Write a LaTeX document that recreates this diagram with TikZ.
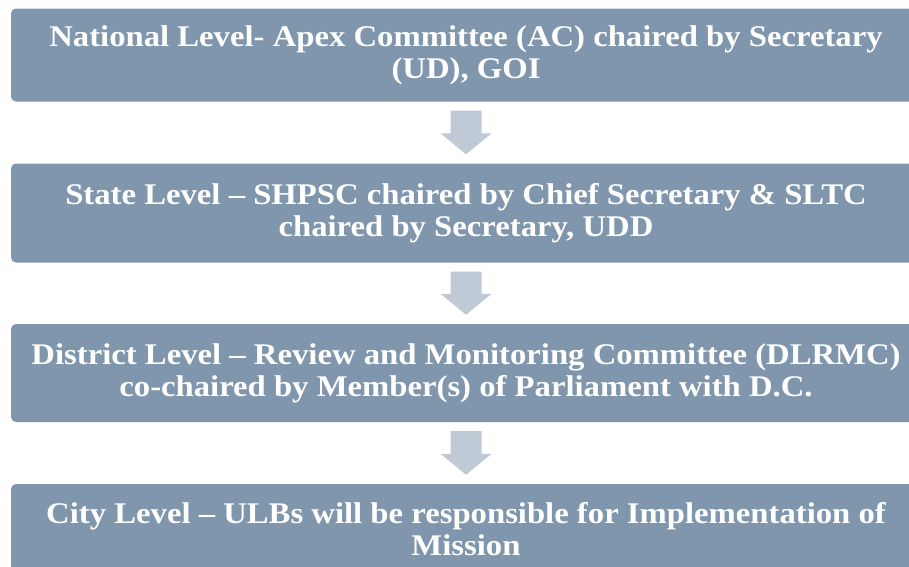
\documentclass[tikz,border=0pt]{standalone}
\usepackage{fontspec}
\setmainfont{Liberation Serif}
\newfontfamily\boxfont[FakeStretch=1.09,Ligatures=TeX]{Liberation Serif}
\usetikzlibrary{calc}
\definecolor{boxfill}{HTML}{7F96AC}
\definecolor{arrowfill}{HTML}{C0CAD6}
\tikzset{
  levelbox/.style={fill=boxfill, rounded corners=5pt, text=white, align=center,
    font=\boxfont\bfseries\fontsize{30}{32}\selectfont, minimum width=910pt, inner sep=0pt},
  blockarrow/.style={fill=arrowfill}
}
\newcommand{\downarrowblock}[2]{%
  \fill[blockarrow] let \p1=($(#1.south)+(0,9)$), \p2=($(#2.north)+(0,-9)$) in
    (\x1-15.5pt,\y1) -- (\x1+15.5pt,\y1) -- (\x1+15.5pt,\y2+21pt) -- (\x1+25.5pt,\y2+21pt)
    -- (\x1,\y2) -- (\x1-25.5pt,\y2+21pt) -- (\x1-15.5pt,\y2+21pt) -- cycle;}
\begin{document}
\begin{tikzpicture}[x=1pt,y=-1pt]
\useasboundingbox (0,0) rectangle (909,566);
\clip (0,0) rectangle (909,566);
\node[levelbox, minimum height=93pt] (b1) at (466,55)
  {National Level- Apex Committee (AC) chaired by Secretary\\(UD), GOI};
\node[levelbox, minimum height=99pt] (b2) at (466,213)
  {State Level – SHPSC chaired by Chief Secretary \& SLTC\\chaired by Secretary, UDD};
\node[levelbox, minimum height=98pt] (b3) at (466,373)
  {District Level – Review and Monitoring Committee (DLRMC)\\co-chaired by Member(s) of Parliament with D.C.};
\node[levelbox, minimum height=90pt] (b4) at (466,529)
  {City Level – ULBs will be responsible for Implementation of\\Mission};
\downarrowblock{b1}{b2}
\downarrowblock{b2}{b3}
\downarrowblock{b3}{b4}
\end{tikzpicture}
\end{document}
